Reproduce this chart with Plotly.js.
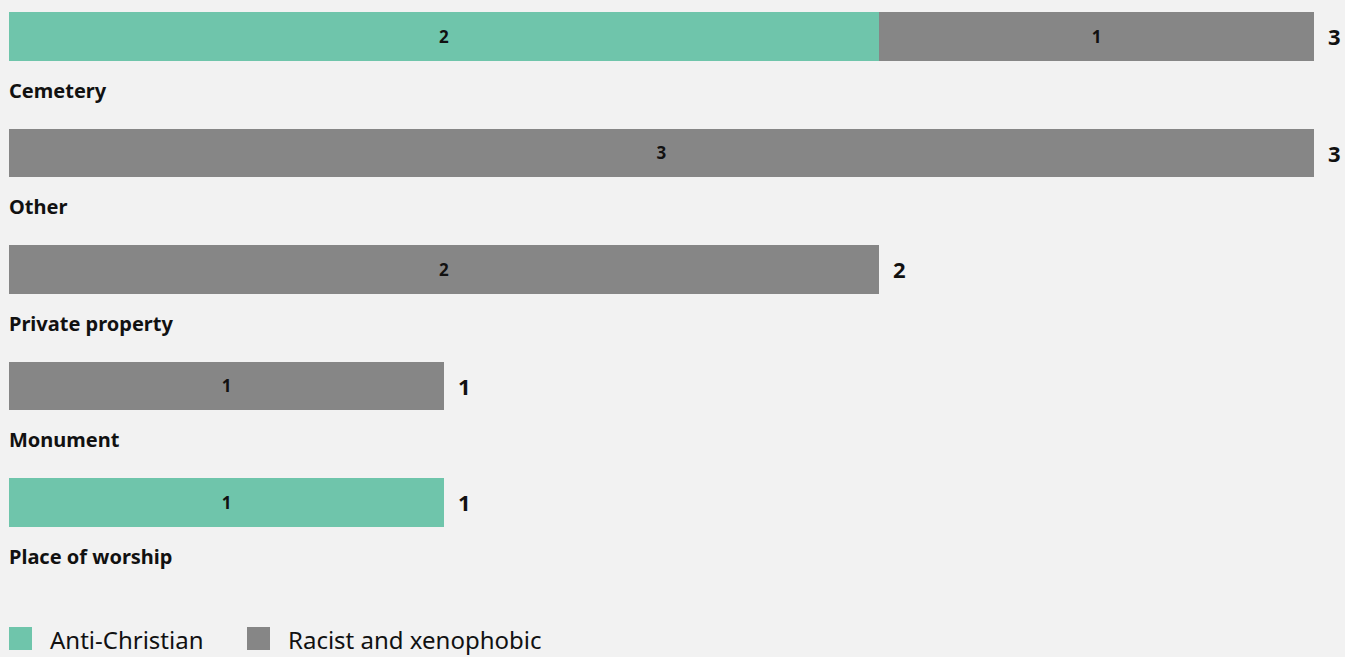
<!DOCTYPE html>
<html>
<head>
<meta charset="utf-8">
<script src="https://cdn.plot.ly/plotly-3.0.1.min.js"></script>
<style>
html,body{margin:0;padding:0;background:#f2f2f2;}
#chart{width:1345px;height:657px;}
</style>
</head>
<body>
<div id="chart"></div>
<script>
const categories = ["Cemetery", "Other", "Private property", "Monument", "Place of worship"];
const antiChristian = [2, 0, 0, 0, 1];
const racistXenophobic = [1, 3, 2, 1, 0];
const seriesNames = ["Anti-Christian", "Racist and xenophobic"];
const seriesColors = ["#6fc5ab", "#868686"];

const FONT = "Noto Sans, Open Sans, sans-serif";
const pos = categories.map((c, i) => i);
const totals = categories.map((c, i) => antiChristian[i] + racistXenophobic[i]);

function textFor(arr) { return arr.map(v => v > 0 ? "<b>" + v + "</b>" : ""); }

const traces = [
  {
    type: "bar", orientation: "h", name: seriesNames[0],
    y: pos, x: antiChristian, text: textFor(antiChristian),
    marker: {color: seriesColors[0]}, width: 0.42,
    textposition: "inside", insidetextanchor: "middle", constraintext: "none",
    textfont: {family: FONT, size: 17, color: "#111"},
    hoverinfo: "x+name", showlegend: false
  },
  {
    type: "bar", orientation: "h", name: seriesNames[1],
    y: pos, x: racistXenophobic, text: textFor(racistXenophobic),
    marker: {color: seriesColors[1]}, width: 0.42,
    textposition: "inside", insidetextanchor: "middle", constraintext: "none",
    textfont: {family: FONT, size: 17, color: "#111"},
    hoverinfo: "x+name", showlegend: false
  }
];

const annotations = [];
categories.forEach((c, i) => {
  annotations.push({
    x: 0, y: i, xref: "x", yref: "y", text: "<b>" + c + "</b>",
    showarrow: false, xanchor: "left", yanchor: "middle", yshift: -54, xshift: -2,
    font: {family: FONT, size: 20, color: "#111"}
  });
  annotations.push({
    x: totals[i], y: i, xref: "x", yref: "y", text: "<b>" + totals[i] + "</b>",
    showarrow: false, xanchor: "left", yanchor: "middle", xshift: 12,
    font: {family: FONT, size: 22, color: "#111"}
  });
});

// legend built from shapes + annotations
const legendX = [9, 247];
const shapes = [];
seriesNames.forEach((n, k) => {
  shapes.push({
    type: "rect", xref: "paper", yref: "paper",
    x0: (legendX[k] - 9) / 1305, x1: (legendX[k] - 9 + 23) / 1305,
    y0: -(627 - 600) / 600, y1: -(650 - 600) / 600,
    fillcolor: seriesColors[k], line: {width: 0}
  });
  annotations.push({
    xref: "paper", yref: "paper",
    x: (legendX[k] - 9 + 39) / 1305, y: -(639 - 600) / 600,
    text: n, showarrow: false, xanchor: "left", yanchor: "middle",
    font: {family: FONT, size: 24, color: "#111"}
  });
});

const layout = {
  width: 1345, height: 657,
  paper_bgcolor: "#f2f2f2", plot_bgcolor: "#f2f2f2",
  margin: {l: 9, r: 31, t: 0, b: 57},
  barmode: "stack",
  showlegend: false,
  xaxis: {range: [0, 3], showgrid: false, zeroline: false, showticklabels: false, fixedrange: true},
  yaxis: {range: [4.837, -0.313], showgrid: false, zeroline: false, showticklabels: false, fixedrange: true},
  annotations: annotations,
  shapes: shapes,
  font: {family: FONT}
};

Plotly.newPlot("chart", traces, layout, {displayModeBar: false});
</script>
</body>
</html>
